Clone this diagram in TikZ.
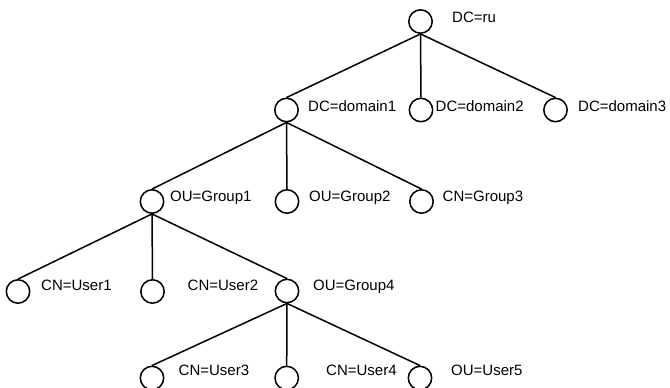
\documentclass[tikz,border=0pt]{standalone}
\usepackage{fontspec}
\setmainfont{Liberation Sans}
\begin{document}
\begin{tikzpicture}[x=1pt,y=-1pt,
  entry/.style={circle,draw=black,line width=1.5pt,minimum size=23.4pt,inner sep=0pt,fill=white},
  tag/.style={anchor=base west,inner sep=0pt,font=\fontsize{15}{18}\selectfont},
  link/.style={line width=1.5pt,draw=black}]
\useasboundingbox (0,0) rectangle (670,388);

% directory entries
\node[entry] (ru) at (420.5,21.5) {};
\node[entry] (d1) at (286.5,110) {};
\node[entry] (d2) at (421,110) {};
\node[entry] (d3) at (555.5,110) {};
\node[entry] (g1) at (152,201.5) {};
\node[entry] (g2) at (287,201.5) {};
\node[entry] (g3) at (421.5,201.5) {};
\node[entry] (u1) at (18,291.5) {};
\node[entry] (u2) at (152.5,291.5) {};
\node[entry] (g4) at (287,291) {};
\node[entry] (u3) at (152,378) {};
\node[entry] (u4) at (286.7,378) {};
\node[entry] (u5) at (420,378) {};

% names
\node[tag] (tru) at (452,22.7) {DC=ru};
\node[tag] (td1) at (308,111.7) {DC=domain1};
\node[tag] (td2) at (435.5,111.7) {DC=domain2};
\node[tag] (td3) at (578,111.7) {DC=domain3};
\node[tag] (tg1) at (170,201) {OU=Group1};
\node[tag] (tg2) at (309,201) {OU=Group2};
\node[tag] (tg3) at (442.5,201) {CN=Group3};
\node[tag] (tu1) at (41,290) {CN=User1};
\node[tag] (tu2) at (187.5,290) {CN=User2};
\node[tag] (tg4) at (313,290) {OU=Group4};
\node[tag] (tu3) at (178.5,375) {CN=User3};
\node[tag] (tu4) at (326,375) {CN=User4};
\node[tag] (tu5) at (451,375) {OU=User5};

% tree links
\foreach \p/\c in {ru/d1,ru/d2,ru/d3,d1/g1,d1/g2,d1/g3,g1/u1,g1/u2,g1/g4,g4/u3,g4/u4,g4/u5}
  \draw[link] (\p.south) -- (\c.north);
\end{tikzpicture}
\end{document}
